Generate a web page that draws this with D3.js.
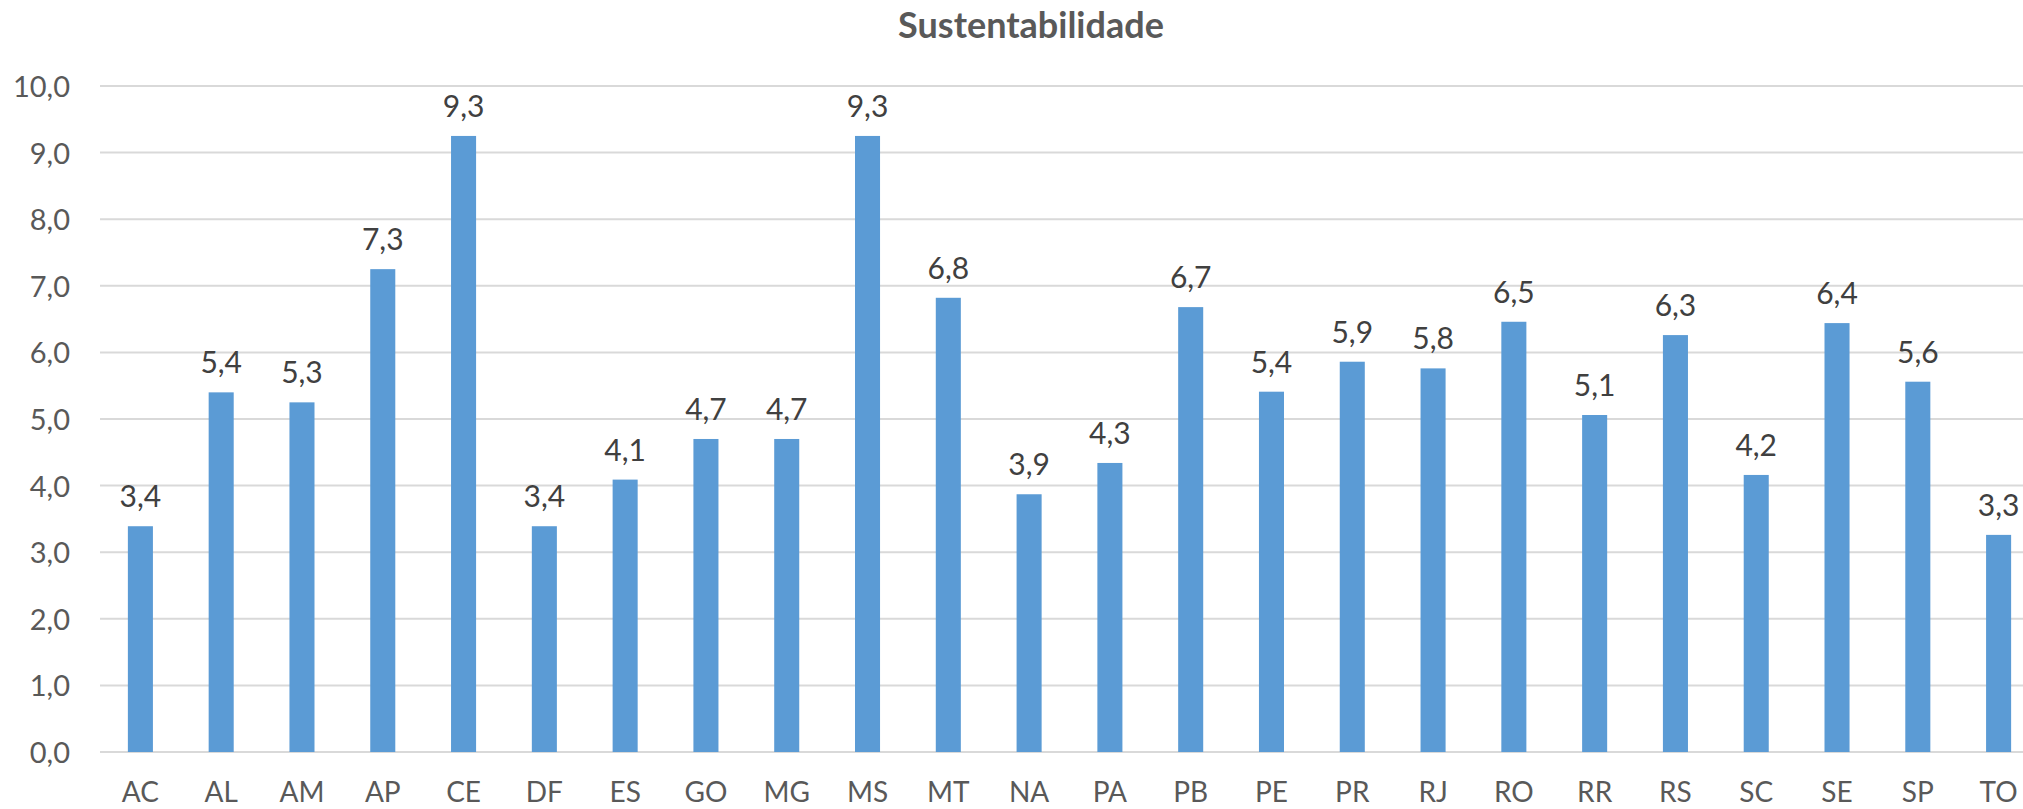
<!DOCTYPE html>
<html>
<head>
<meta charset="utf-8">
<script src="https://cdn.jsdelivr.net/npm/d3@7"></script>
<style>
  html, body { margin: 0; padding: 0; background: #fff; overflow: hidden; }
  svg { display: block; }
</style>
</head>
<body>
<svg id="chart" width="2023" height="809"></svg>
<script>
const title = "Sustentabilidade";
const categories = ["AC","AL","AM","AP","CE","DF","ES","GO","MG","MS","MT","NA","PA","PB","PE","PR","RJ","RO","RR","RS","SC","SE","SP","TO"];
const values = [3.39,5.4,5.25,7.25,9.25,3.39,4.09,4.7,4.7,9.25,6.82,3.87,4.34,6.68,5.41,5.86,5.76,6.46,5.06,6.26,4.16,6.44,5.56,3.26];
const yTicks = [0,1,2,3,4,5,6,7,8,9,10];

(function () {
const svg = d3.select("#chart");
const font = "Lato, 'Open Sans', sans-serif";
const plotLeft = 100, plotRight = 2039, plotTop = 86, plotBottom = 752;

const x = d3.scaleBand().domain(categories).range([plotLeft, plotRight])
  .paddingInner(0.69).paddingOuter(0.345);
const y = d3.scaleLinear().domain([0, 10]).range([plotBottom, plotTop]);
const fmt = v => d3.format(".1f")(v).replace(".", ",");

// gridlines
svg.append("g").selectAll("line").data(yTicks).join("line")
  .attr("x1", plotLeft).attr("x2", plotRight)
  .attr("y1", d => y(d)).attr("y2", d => y(d))
  .attr("stroke", "#D9D9D9").attr("stroke-width", 2);

// y axis labels
const yAxis = d3.axisLeft(y).tickValues(yTicks).tickFormat(fmt).tickSize(0).tickPadding(30);
const ga = svg.append("g").attr("transform", `translate(${plotLeft},0)`).call(yAxis);
ga.select(".domain").remove();
ga.selectAll("text").attr("font-family", font).attr("font-size", 29)
  .attr("fill", "#595959").attr("dy", "0.36em");

// x axis labels
const xAxis = d3.axisBottom(x).tickSize(0).tickPadding(30);
const gx = svg.append("g").attr("transform", `translate(0,${plotBottom})`).call(xAxis);
gx.select(".domain").remove();
gx.selectAll("text").attr("font-family", font).attr("font-size", 28)
  .attr("fill", "#595959").attr("dy", "0.71em");

// bars
svg.append("g").selectAll("rect").data(categories).join("rect")
  .attr("x", d => x(d)).attr("width", x.bandwidth())
  .attr("y", (d, i) => y(values[i]))
  .attr("height", (d, i) => y(0) - y(values[i]))
  .attr("fill", "#5B9BD5");

// data labels
svg.append("g").selectAll("text").data(categories).join("text")
  .attr("x", d => x(d) + x.bandwidth() / 2)
  .attr("y", (d, i) => y(values[i]) - 19)
  .attr("text-anchor", "middle")
  .attr("font-family", font).attr("font-size", 30).attr("fill", "#404040")
  .text((d, i) => fmt(values[i]));

// title
svg.append("text").attr("x", 1031).attr("y", 38)
  .attr("text-anchor", "middle").attr("font-family", font)
  .attr("font-weight", "bold").attr("font-size", 36).attr("fill", "#595959")
  .text(title);
})();
</script>
</body>
</html>
